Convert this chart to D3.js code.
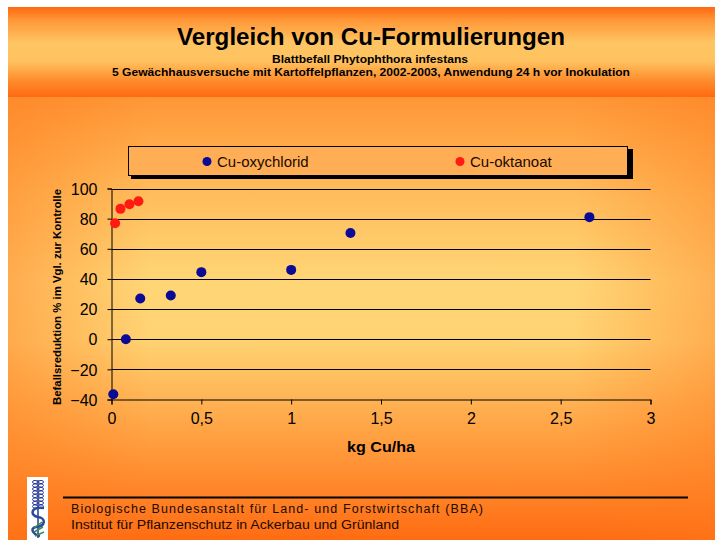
<!DOCTYPE html>
<html>
<head>
<meta charset="utf-8">
<script src="https://cdn.jsdelivr.net/npm/d3@7"></script>
<style>
  html, body { margin: 0; padding: 0; background: #fff; }
  svg { display: block; font-family: "Liberation Sans", Arial, sans-serif; }
</style>
</head>
<body>
<svg id="chart" width="715" height="540"></svg>
<script>
// Dose (kg Cu/ha) and reduction of leaf infestation (% vs. control)
const oxychloridDose = [0.01, 0.08, 0.16, 0.33, 0.5, 1.0, 1.33, 2.66];
const oxychloridReduction = [-36.5, 0, 27, 29, 44.5, 46, 70.5, 81];
const oktanoatDose = [0.02, 0.05, 0.1, 0.15];
const oktanoatReduction = [77, 86.5, 89.5, 91.5];

const seriesNames = ["Cu-oxychlorid", "Cu-oktanoat"];
const seriesColors = ["#0a0a96", "#ff1a12"];

const xTicks = [0, 0.5, 1, 1.5, 2, 2.5, 3];
const xTickLabels = ["0", "0,5", "1", "1,5", "2", "2,5", "3"];
const yTicks = [-40, -20, 0, 20, 40, 60, 80, 100];

const svg = d3.select("#chart");
const defs = svg.append("defs");

// background gradients
const bandGrad = defs.append("linearGradient").attr("id", "band")
  .attr("x1", 0).attr("y1", 0).attr("x2", 0).attr("y2", 1);
[[0, "#ff6810"], [0.15, "#ff9838"], [0.4, "#ffc563"], [0.6, "#ffc25f"],
 [0.82, "#ff8c2c"], [1, "#ff6a10"]].forEach(([o, c]) =>
  bandGrad.append("stop").attr("offset", o).attr("stop-color", c));

const mainGrad = defs.append("linearGradient").attr("id", "main")
  .attr("x1", 0).attr("y1", 0).attr("x2", 0).attr("y2", 1);
[[0, "#ff9636"], [0.22, "#ffbd5c"], [0.42, "#ffd677"], [0.55, "#ffd272"],
 [0.75, "#ffa445"], [1, "#ff6c12"]].forEach(([o, c]) =>
  mainGrad.append("stop").attr("offset", o).attr("stop-color", c));

const sideGrad = defs.append("linearGradient").attr("id", "side")
  .attr("x1", 0).attr("y1", 0).attr("x2", 1).attr("y2", 0);
[[0, "#ff7a1c", 0.45], [0.2, "#ff7a1c", 0], [0.8, "#ff7a1c", 0], [1, "#ff7a1c", 0.4]]
  .forEach(([o, c, a]) => sideGrad.append("stop").attr("offset", o)
    .attr("stop-color", c).attr("stop-opacity", a));

svg.append("rect").attr("x", 8).attr("y", 97).attr("width", 707).attr("height", 443)
  .attr("fill", "url(#main)");
svg.append("rect").attr("x", 8).attr("y", 97).attr("width", 707).attr("height", 443)
  .attr("fill", "url(#side)");
svg.append("rect").attr("x", 8).attr("y", 7).attr("width", 707).attr("height", 90)
  .attr("fill", "url(#band)");

// titles
svg.append("text").attr("x", 371).attr("y", 45).attr("text-anchor", "middle")
  .attr("font-size", 24).attr("font-weight", "bold").attr("fill", "#000")
  .attr("textLength", 388).attr("lengthAdjust", "spacingAndGlyphs")
  .text("Vergleich von Cu-Formulierungen");
svg.append("text").attr("x", 370).attr("y", 63).attr("text-anchor", "middle")
  .attr("font-size", 10.5).attr("font-weight", "bold").attr("fill", "#000")
  .attr("textLength", 196).attr("lengthAdjust", "spacingAndGlyphs")
  .text("Blattbefall Phytophthora infestans");
svg.append("text").attr("x", 371).attr("y", 76).attr("text-anchor", "middle")
  .attr("font-size", 10.5).attr("font-weight", "bold").attr("fill", "#000")
  .attr("textLength", 518).attr("lengthAdjust", "spacingAndGlyphs")
  .text("5 Gewächhausversuche mit Kartoffelpflanzen, 2002-2003, Anwendung 24 h vor Inokulation");

// plot
const x = d3.scaleLinear().domain([0, 3]).range([111.5, 650.5]);
const y = d3.scaleLinear().domain([-40, 100]).range([399.5, 188.5]);

const g = svg.append("g");

// horizontal gridlines
g.selectAll("line.grid").data(yTicks.filter(v => v > -40)).enter().append("line")
  .attr("class", "grid")
  .attr("x1", x(0)).attr("x2", x(3))
  .attr("y1", d => Math.round(y(d)) + 0.5).attr("y2", d => Math.round(y(d)) + 0.5)
  .attr("stroke", "#000").attr("stroke-width", 1);

const yAxis = g.append("g").attr("transform", `translate(${x(0)},0)`)
  .call(d3.axisLeft(y).tickValues(yTicks).tickSize(4).tickPadding(10)
    .tickFormat(d3.format("d")));
const xAxis = g.append("g").attr("transform", `translate(0,${y(-40)})`)
  .call(d3.axisBottom(x).tickValues(xTicks).tickSize(5).tickPadding(8)
    .tickFormat((d, i) => xTickLabels[i]));
[yAxis, xAxis].forEach(a => {
  a.selectAll("path.domain").attr("stroke", "#000").attr("stroke-width", 1);
  a.selectAll(".tick line").attr("stroke", "#000");
  a.selectAll("text").attr("font-family", "Liberation Sans, Arial, sans-serif")
    .attr("font-size", 16).attr("fill", "#000");
});
yAxis.selectAll("text").attr("dy", "0.36em");

// axis titles
svg.append("text").attr("x", 381).attr("y", 452).attr("text-anchor", "middle")
  .attr("font-size", 15).attr("font-weight", "bold").attr("fill", "#000")
  .attr("textLength", 68).attr("lengthAdjust", "spacingAndGlyphs")
  .text("kg Cu/ha");
svg.append("text").attr("transform", "translate(61,297) rotate(-90)")
  .attr("text-anchor", "middle")
  .attr("font-size", 11.5).attr("font-weight", "bold").attr("fill", "#000")
  .attr("textLength", 216).attr("lengthAdjust", "spacingAndGlyphs")
  .text("Befallsreduktion % im Vgl. zur Kontrolle");

// data points
const series = [
  { name: seriesNames[0], color: seriesColors[0], xs: oxychloridDose, ys: oxychloridReduction },
  { name: seriesNames[1], color: seriesColors[1], xs: oktanoatDose, ys: oktanoatReduction }
];
series.forEach(s => {
  g.append("g").selectAll("circle").data(s.xs.map((d, i) => [d, s.ys[i]])).enter()
    .append("circle")
    .attr("cx", d => x(d[0])).attr("cy", d => y(d[1])).attr("r", 5)
    .attr("fill", s.color);
});

// legend with drop shadow
const legend = svg.append("g");
legend.append("rect").attr("x", 131).attr("y", 149).attr("width", 502).attr("height", 30)
  .attr("fill", "#000");
legend.append("rect").attr("x", 128.5).attr("y", 146.5).attr("width", 499).attr("height", 29)
  .attr("fill", "#ffae55").attr("stroke", "#000").attr("stroke-width", 1);
const legendX = [207, 460];
series.forEach((s, i) => {
  legend.append("circle").attr("cx", legendX[i]).attr("cy", 161.5).attr("r", 4.5)
    .attr("fill", s.color);
  legend.append("text").attr("x", legendX[i] + 10).attr("y", 167)
    .attr("font-size", 15).attr("fill", "#1a0a00")
    .text(s.name);
});

// footer
svg.append("line").attr("x1", 63).attr("x2", 688).attr("y1", 497.5).attr("y2", 497.5)
  .attr("stroke", "#000").attr("stroke-width", 2);
svg.append("text").attr("x", 71).attr("y", 513).attr("font-size", 12.5).attr("fill", "#1a0a00")
  .attr("textLength", 412).attr("lengthAdjust", "spacing")
  .text("Biologische Bundesanstalt für Land- und Forstwirtschaft (BBA)");
svg.append("text").attr("x", 71).attr("y", 529).attr("font-size", 12.5).attr("fill", "#1a0a00")
  .attr("textLength", 328).attr("lengthAdjust", "spacingAndGlyphs")
  .text("Institut für Pflanzenschutz in Ackerbau und Grünland");

// institute emblem: ear of wheat with a serpent
const logo = svg.append("g");
logo.append("rect").attr("x", 27).attr("y", 477).attr("width", 21).attr("height", 63).attr("fill", "#fff");
logo.append("line").attr("x1", 38).attr("x2", 38).attr("y1", 480).attr("y2", 538)
  .attr("stroke", "#2a3a8a").attr("stroke-width", 1.5);
d3.range(8).forEach(i => {
  [-1, 1].forEach(side => {
    logo.append("ellipse").attr("cx", 38 + side * 3).attr("cy", 482 + i * 3.5)
      .attr("rx", 2.5).attr("ry", 1.6).attr("fill", "none")
      .attr("stroke", "#2a3a9a").attr("stroke-width", 1);
  });
});
logo.append("path")
  .attr("d", "M44,508 C30,506 30,516 38,517 C46,518 46,526 36,527 C30,528 32,534 40,536")
  .attr("fill", "none").attr("stroke", "#2a4a9a").attr("stroke-width", 2.5);
logo.append("path")
  .attr("d", "M34,528 L42,522 M34,532 L43,527 M35,536 L44,532")
  .attr("fill", "none").attr("stroke", "#3a8a5a").attr("stroke-width", 1.5);
</script>
</body>
</html>
